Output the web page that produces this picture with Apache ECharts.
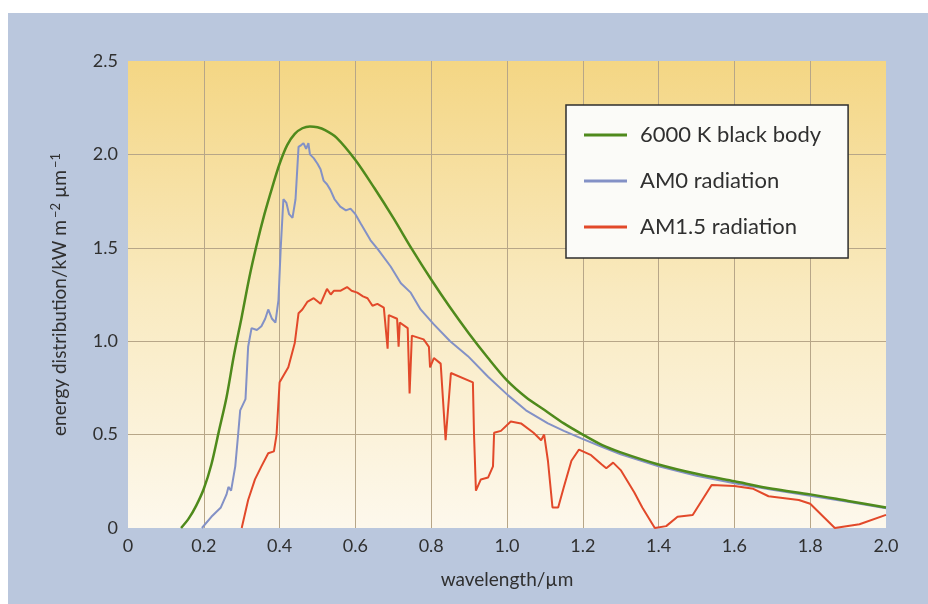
<!DOCTYPE html>
<html>
<head>
<meta charset="utf-8">
<script src="https://cdn.jsdelivr.net/npm/echarts@6/dist/echarts.min.js"></script>
<style>
  html, body { margin: 0; padding: 0; background: #ffffff; }
  #chart { position: absolute; left: 8px; top: 13px; width: 920px; height: 591px; background: #bac7dd; }
</style>
</head>
<body>
<div id="chart"></div>
<script>
// 6000 K black body
const bbWave = [0.14, 0.16, 0.18, 0.20, 0.22, 0.24, 0.26, 0.28, 0.30, 0.32, 0.34, 0.36, 0.38, 0.40, 0.42, 0.44, 0.46, 0.48, 0.50, 0.52, 0.55, 0.60, 0.65, 0.70, 0.75, 0.80, 0.85, 0.90, 0.95, 1.00, 1.05, 1.10, 1.15, 1.20, 1.25, 1.30, 1.40, 1.50, 1.60, 1.70, 1.80, 1.90, 2.00];
const bbValue = [0, 0.05, 0.12, 0.21, 0.34, 0.52, 0.70, 0.93, 1.13, 1.34, 1.52, 1.68, 1.82, 1.95, 2.05, 2.11, 2.14, 2.15, 2.145, 2.13, 2.09, 1.97, 1.82, 1.66, 1.49, 1.33, 1.18, 1.04, 0.91, 0.79, 0.70, 0.63, 0.56, 0.50, 0.445, 0.405, 0.34, 0.29, 0.25, 0.21, 0.18, 0.145, 0.11];

// AM0
const am0Wave = [0.195, 0.22, 0.245, 0.26, 0.265, 0.272, 0.283, 0.291, 0.296, 0.31, 0.317, 0.326, 0.34, 0.352, 0.362, 0.37, 0.38, 0.389, 0.397, 0.403, 0.41, 0.418, 0.425, 0.434, 0.442, 0.45, 0.457, 0.463, 0.47, 0.476, 0.48, 0.49, 0.50, 0.508, 0.516, 0.525, 0.534, 0.545, 0.56, 0.575, 0.587, 0.60, 0.614, 0.64, 0.66, 0.693, 0.72, 0.746, 0.772, 0.807, 0.85, 0.897, 0.95, 1.003, 1.05, 1.108, 1.15, 1.196, 1.25, 1.30, 1.40, 1.50, 1.60, 1.70, 1.80, 1.90, 2.00];
const am0Value = [0, 0.06, 0.11, 0.18, 0.22, 0.20, 0.33, 0.51, 0.63, 0.69, 0.97, 1.07, 1.06, 1.08, 1.12, 1.17, 1.12, 1.10, 1.22, 1.50, 1.76, 1.74, 1.68, 1.66, 1.76, 2.04, 2.05, 2.06, 2.03, 2.06, 2.00, 1.98, 1.95, 1.92, 1.86, 1.84, 1.81, 1.76, 1.72, 1.70, 1.71, 1.68, 1.63, 1.54, 1.49, 1.40, 1.31, 1.26, 1.17, 1.09, 1.00, 0.92, 0.81, 0.71, 0.63, 0.56, 0.52, 0.48, 0.435, 0.395, 0.33, 0.28, 0.24, 0.205, 0.172, 0.14, 0.105];

// AM1.5
const am15Wave = [0.30, 0.317, 0.335, 0.352, 0.37, 0.385, 0.392, 0.40, 0.423, 0.44, 0.45, 0.46, 0.473, 0.49, 0.508, 0.525, 0.535, 0.543, 0.56, 0.578, 0.59, 0.605, 0.62, 0.632, 0.645, 0.658, 0.675, 0.685, 0.688, 0.71, 0.714, 0.717, 0.738, 0.743, 0.749, 0.78, 0.794, 0.797, 0.807, 0.825, 0.838, 0.852, 0.91, 0.913, 0.918, 0.931, 0.95, 0.963, 0.966, 0.984, 1.01, 1.037, 1.07, 1.09, 1.098, 1.108, 1.12, 1.135, 1.15, 1.17, 1.19, 1.222, 1.25, 1.262, 1.28, 1.30, 1.336, 1.357, 1.39, 1.42, 1.45, 1.49, 1.54, 1.60, 1.65, 1.69, 1.77, 1.80, 1.865, 1.93, 2.00];
const am15Value = [0, 0.15, 0.26, 0.33, 0.40, 0.41, 0.50, 0.78, 0.86, 0.99, 1.15, 1.17, 1.21, 1.23, 1.20, 1.28, 1.25, 1.27, 1.27, 1.29, 1.27, 1.26, 1.24, 1.23, 1.19, 1.20, 1.18, 0.96, 1.14, 1.12, 0.97, 1.10, 1.07, 0.72, 1.03, 1.01, 0.97, 0.86, 0.91, 0.88, 0.47, 0.83, 0.78, 0.50, 0.20, 0.26, 0.27, 0.33, 0.51, 0.52, 0.57, 0.56, 0.51, 0.47, 0.50, 0.36, 0.11, 0.11, 0.22, 0.36, 0.42, 0.39, 0.34, 0.32, 0.35, 0.31, 0.19, 0.11, 0, 0.01, 0.06, 0.07, 0.23, 0.225, 0.21, 0.17, 0.15, 0.13, 0, 0.02, 0.07];

const seriesNames = ['6000 K black body', 'AM0 radiation', 'AM1.5 radiation'];
const seriesColors = ['#4f8a1c', '#8391c6', '#e2492a'];

const zip = (xs, ys) => xs.map((x, i) => [x, ys[i]]);
const fmt = v => (v === 0 ? '0' : v.toFixed(1));

const chart = echarts.init(document.getElementById('chart'));
const textColor = '#303030';
const font = 'Lato';

const option = {
  animation: false,
  grid: {
    left: 120,
    right: 42,
    top: 48,
    bottom: 76,
    show: true,
    borderWidth: 0,
    backgroundColor: new echarts.graphic.LinearGradient(0, 0, 0, 1, [
      { offset: 0, color: '#f4d684' },
      { offset: 0.5, color: '#f9eac0' },
      { offset: 1, color: '#fdf8ec' }
    ])
  },
  legend: {
    orient: 'vertical',
    left: 558,
    top: 92,
    icon: 'rect',
    padding: [19, 27, 20, 18],
    itemGap: 24,
    itemWidth: 43,
    itemHeight: 3,
    backgroundColor: '#fbfbf8',
    borderColor: '#2e2e2e',
    borderWidth: 1.5,
    textStyle: { fontFamily: font, fontSize: 22, color: textColor, padding: [0, 0, 0, 8] },
    data: seriesNames
  },
  xAxis: {
    type: 'value',
    min: 0,
    max: 2,
    interval: 0.2,
    name: 'wavelength/µm',
    nameLocation: 'middle',
    nameGap: 42,
    nameTextStyle: { fontFamily: font, fontSize: 19, color: textColor },
    axisLine: { show: false },
    axisTick: { show: false },
    axisLabel: { formatter: fmt, fontFamily: font, fontSize: 18, color: textColor, margin: 9 },
    splitLine: { show: true, showMinLine: false, showMaxLine: false, lineStyle: { color: '#b7a688', width: 1 } }
  },
  yAxis: {
    type: 'value',
    min: 0,
    max: 2.5,
    interval: 0.5,
    name: '{a|energy distribution/kW m}{s|−2}{a| µm}{s|−1}',
    nameLocation: 'middle',
    nameGap: 58,
    nameTextStyle: {
      color: textColor,
      rich: {
        a: { fontFamily: font, fontSize: 19, color: textColor },
        s: { fontFamily: font, fontSize: 13, color: textColor, verticalAlign: 'top', padding: [0, 0, 8, 2] }
      }
    },
    axisLine: { show: false },
    axisTick: { show: false },
    axisLabel: { formatter: fmt, fontFamily: font, fontSize: 18, color: textColor, margin: 10 },
    splitLine: { show: true, showMinLine: false, showMaxLine: false, lineStyle: { color: '#b7a688', width: 1 } }
  },
  series: [
    { name: seriesNames[0], type: 'line', symbol: 'none', smooth: 0.3, data: zip(bbWave, bbValue), lineStyle: { color: seriesColors[0], width: 2.5 }, itemStyle: { color: seriesColors[0] }, z: 3 },
    { name: seriesNames[1], type: 'line', symbol: 'none', data: zip(am0Wave, am0Value), lineStyle: { color: seriesColors[1], width: 2 }, itemStyle: { color: seriesColors[1] }, z: 2 },
    { name: seriesNames[2], type: 'line', symbol: 'none', data: zip(am15Wave, am15Value), lineStyle: { color: seriesColors[2], width: 2 }, itemStyle: { color: seriesColors[2] }, z: 4 }
  ]
};
chart.setOption(option);
</script>
</body>
</html>
